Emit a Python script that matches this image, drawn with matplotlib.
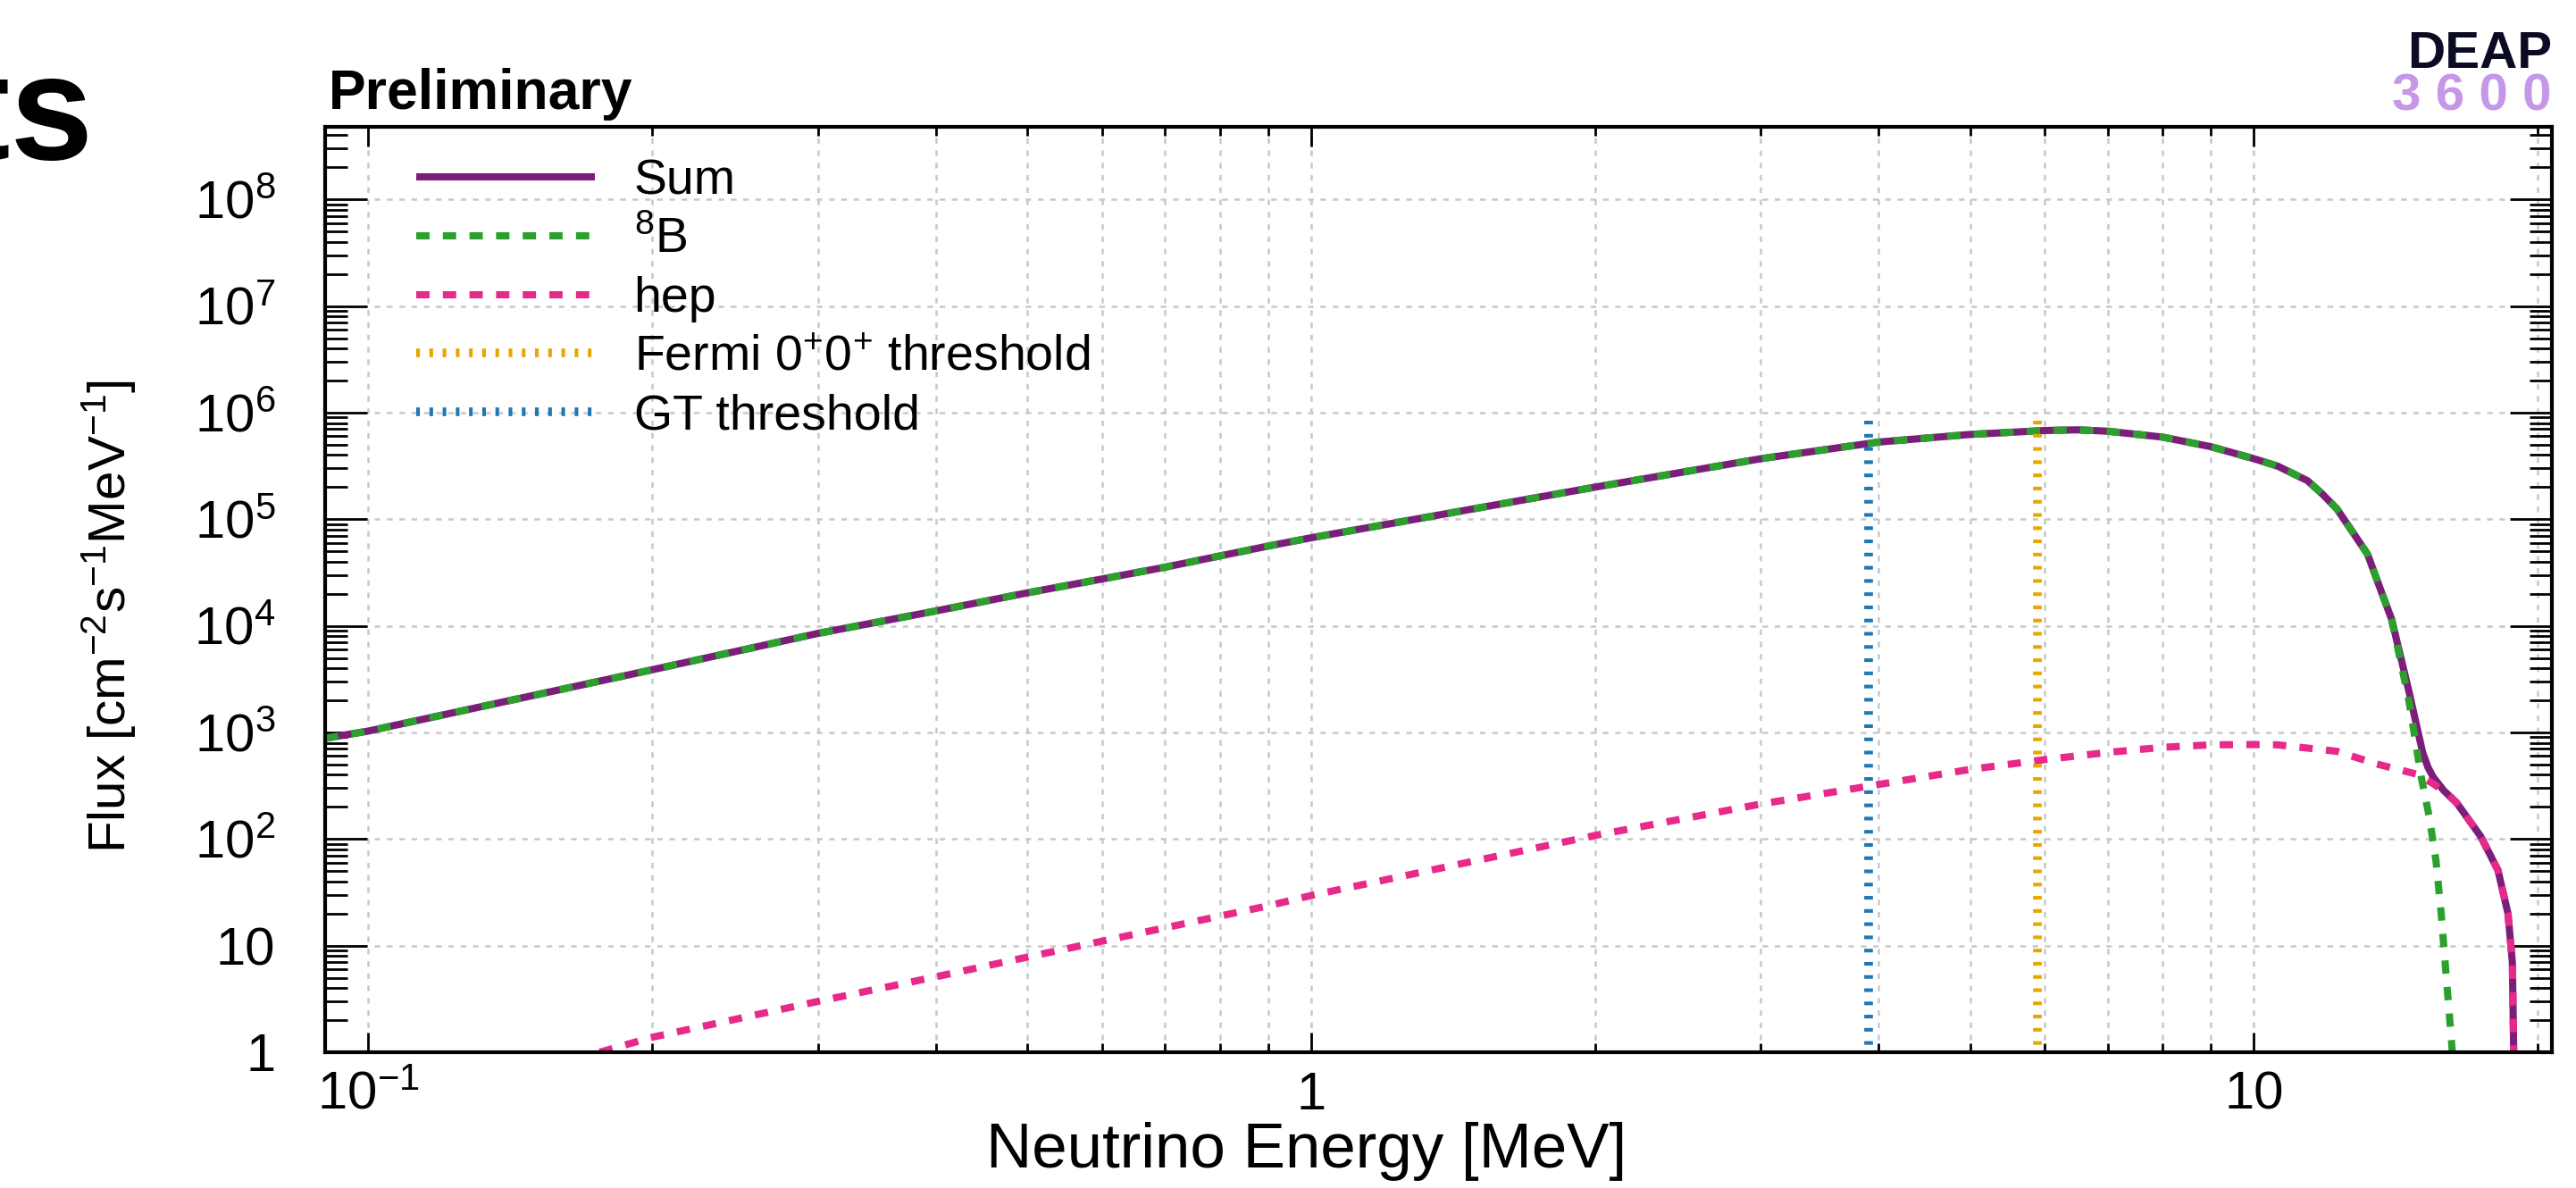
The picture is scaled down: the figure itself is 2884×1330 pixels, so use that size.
import matplotlib
matplotlib.use("Agg")
import matplotlib.pyplot as plt
from matplotlib.ticker import FixedLocator, FixedFormatter, LogLocator, NullFormatter

plt.rcParams['font.family'] = ['Liberation Sans', 'DejaVu Sans']
plt.rcParams['mathtext.fontset'] = 'custom'
plt.rcParams['mathtext.rm'] = 'Liberation Sans'
plt.rcParams['mathtext.it'] = 'Liberation Sans:italic'
plt.rcParams['mathtext.bf'] = 'Liberation Sans:bold'

# 8B spectrum
b8_energy = [0.09, 0.1, 0.2, 0.3, 0.4, 0.5, 0.6, 0.7, 0.9, 1.0, 2.0, 3.0, 4.0, 5.0, 6.0, 6.5, 7.0,
             8.0, 9.0, 10.0, 10.6, 11.4, 11.8, 12.25, 12.7, 13.2, 13.55, 14.0, 14.6, 15.05, 15.35, 15.6,
             15.8, 16.0, 16.2, 16.35]
b8_flux = [880, 1030, 3870, 8500, 1.38e4, 2.04e4, 2.75e4, 3.55e4, 5.6e4, 6.7e4, 2.0e5, 3.7e5, 5.3e5, 6.25e5, 6.8e5, 6.9e5, 6.7e5,
           5.9e5, 4.8e5, 3.7e5, 3.15e5, 2.3e5, 1.75e5, 1.25e5, 7.8e4, 4.7e4, 2.5e4, 1.15e4, 2.0e3, 380, 160, 63,
           20, 5, 1.3, 0.4]

# hep spectrum
hep_energy = [0.176, 0.2, 0.3, 0.4, 0.5, 0.6, 0.7, 0.9, 1.0, 2.0, 3.0, 4.0, 5.0, 6.0, 7.0, 8.0, 9.0, 10.0,
              10.6, 12.25, 13.45, 14.9, 15.5, 15.9, 16.4, 17.4, 18.15, 18.6, 18.8, 18.9]
hep_flux = [1.0, 1.38, 3.0, 5.1, 7.8, 11.0, 14.7, 23.6, 29.5, 108, 213, 325, 450, 556, 650, 725, 765, 770,
            765, 665, 510, 405, 330, 280, 220, 106, 51, 20, 7, 0.3]

# total
sum_energy = [0.09, 0.1, 0.2, 0.3, 0.4, 0.5, 0.6, 0.7, 0.9, 1.0, 2.0, 3.0, 4.0, 5.0, 6.0, 6.5, 7.0,
              8.0, 9.0, 10.0, 10.6, 11.4, 11.8, 12.25, 12.7, 13.2, 13.55, 14.0, 14.6, 14.9, 15.1, 15.3,
              15.5, 15.9, 16.4, 17.4, 18.15, 18.6, 18.8, 18.9]
sum_flux = [880, 1030, 3870, 8500, 1.38e4, 2.04e4, 2.75e4, 3.55e4, 5.6e4, 6.7e4, 2.0e5, 3.7e5, 5.3e5, 6.25e5, 6.8e5, 6.9e5, 6.7e5,
            5.9e5, 4.8e5, 3.7e5, 3.15e5, 2.3e5, 1.75e5, 1.25e5, 7.8e4, 4.7e4, 2.5e4, 1.15e4, 2450, 1100, 650, 470,
            380, 285, 220, 106, 51, 20, 7, 0.3]

fermi_threshold = 5.89
gt_threshold = 3.90
threshold_top = 1e6

x_ticks = [0.1, 1, 10]
x_tick_labels = ['$10^{-1}$', '1', '10']
y_ticks = [1, 10, 1e2, 1e3, 1e4, 1e5, 1e6, 1e7, 1e8]
y_tick_labels = ['1', '10', '$10^{2}$', '$10^{3}$', '$10^{4}$', '$10^{5}$', '$10^{6}$', '$10^{7}$', '$10^{8}$']

purple = '#7B1E7A'
green = '#2CA02C'
pink = '#E7298A'
orange = '#E8A600'
blue = '#1F77B4'

fig = plt.figure(figsize=(14.42, 6.65), dpi=200)
ax = fig.add_axes([0.1262, 0.1143, 0.8644, 0.7789])

ax.set_xscale('log')
ax.set_yscale('log')
ax.set_xlim(0.09, 20.7)
ax.set_ylim(1, 4.8e8)

lw = 2.9
ax.plot(sum_energy, sum_flux, color=purple, lw=lw, solid_capstyle='butt', label='Sum')
ax.plot(b8_energy, b8_flux, color=green, lw=lw, dashes=(1.85, 1.85), label='$^{8}$B')
ax.plot(hep_energy, hep_flux, color=pink, lw=lw, dashes=(1.85, 1.85), label='hep')
ax.plot([fermi_threshold, fermi_threshold], [0.5, threshold_top], color=orange, lw=3.5,
        dashes=(0.42, 1.1), label='Fermi 0$^{+}$0$^{+}$ threshold')
ax.plot([gt_threshold, gt_threshold], [0.5, threshold_top], color=blue, lw=3.5,
        dashes=(0.42, 1.1), label='GT threshold')

ax.xaxis.set_major_locator(FixedLocator(x_ticks))
ax.xaxis.set_major_formatter(FixedFormatter(x_tick_labels))
ax.xaxis.set_minor_locator(LogLocator(base=10, subs=range(2, 10), numticks=20))
ax.xaxis.set_minor_formatter(NullFormatter())
ax.yaxis.set_major_locator(FixedLocator(y_ticks))
ax.yaxis.set_major_formatter(FixedFormatter(y_tick_labels))
ax.yaxis.set_minor_locator(LogLocator(base=10, subs=range(2, 10), numticks=20))
ax.yaxis.set_minor_formatter(NullFormatter())

ax.tick_params(which='both', direction='in', top=True, right=True, width=1.0, colors='black')
ax.tick_params(axis='x', which='major', length=8, pad=23, labelsize=21.5)
ax.tick_params(axis='x', which='minor', length=3.6)
ax.tick_params(axis='y', which='major', length=17, pad=20, labelsize=21.5)
ax.tick_params(axis='y', which='minor', length=9)
plt.setp(ax.get_xticklabels(), va='baseline')

for s in ax.spines.values():
    s.set_linewidth(1.5)

ax.set_axisbelow(True)
grid_style = dict(color='#c8c8c8', lw=0.9, linestyle=(0, (2.5, 3)))
ax.grid(True, axis='x', which='both', **grid_style)
ax.grid(True, axis='y', which='major', **grid_style)

ax.set_xlabel('Neutrino Energy [MeV]', fontsize=25.5)
ax.xaxis.set_label_coords(0.4405, -0.1245)
ax.xaxis.label.set_va('baseline')
ax.set_ylabel('Flux [cm$^{-2}$s$^{-1}$MeV$^{-1}$]', fontsize=21)
ax.yaxis.set_label_coords(-0.0838, 0.471)

ax.legend(loc='upper left', bbox_to_anchor=(0.041, 0.966), frameon=False, fontsize=20,
          handlelength=3.6, handletextpad=0.78, labelspacing=0.25, borderpad=0, borderaxespad=0)

fig.text(368 / 2884, 1 - 122 / 1330, 'Preliminary', fontsize=22.5, fontweight='bold', va='baseline')
fig.text(2857 / 2884, 1 - 76 / 1330, 'DEAP', fontsize=21, fontweight='bold', color='#0B0B24',
         ha='right', va='baseline')
fig.text(2857 / 2884, 1 - 124 / 1330, '3 6 0 0', fontsize=21, fontweight='bold', color='#C597E8',
         ha='right', va='baseline')
fig.text(104 / 2884, 1 - 178 / 1330, 'ts', fontsize=60, fontweight='bold', ha='right', va='baseline')

fig.savefig('out.png', dpi=200)
